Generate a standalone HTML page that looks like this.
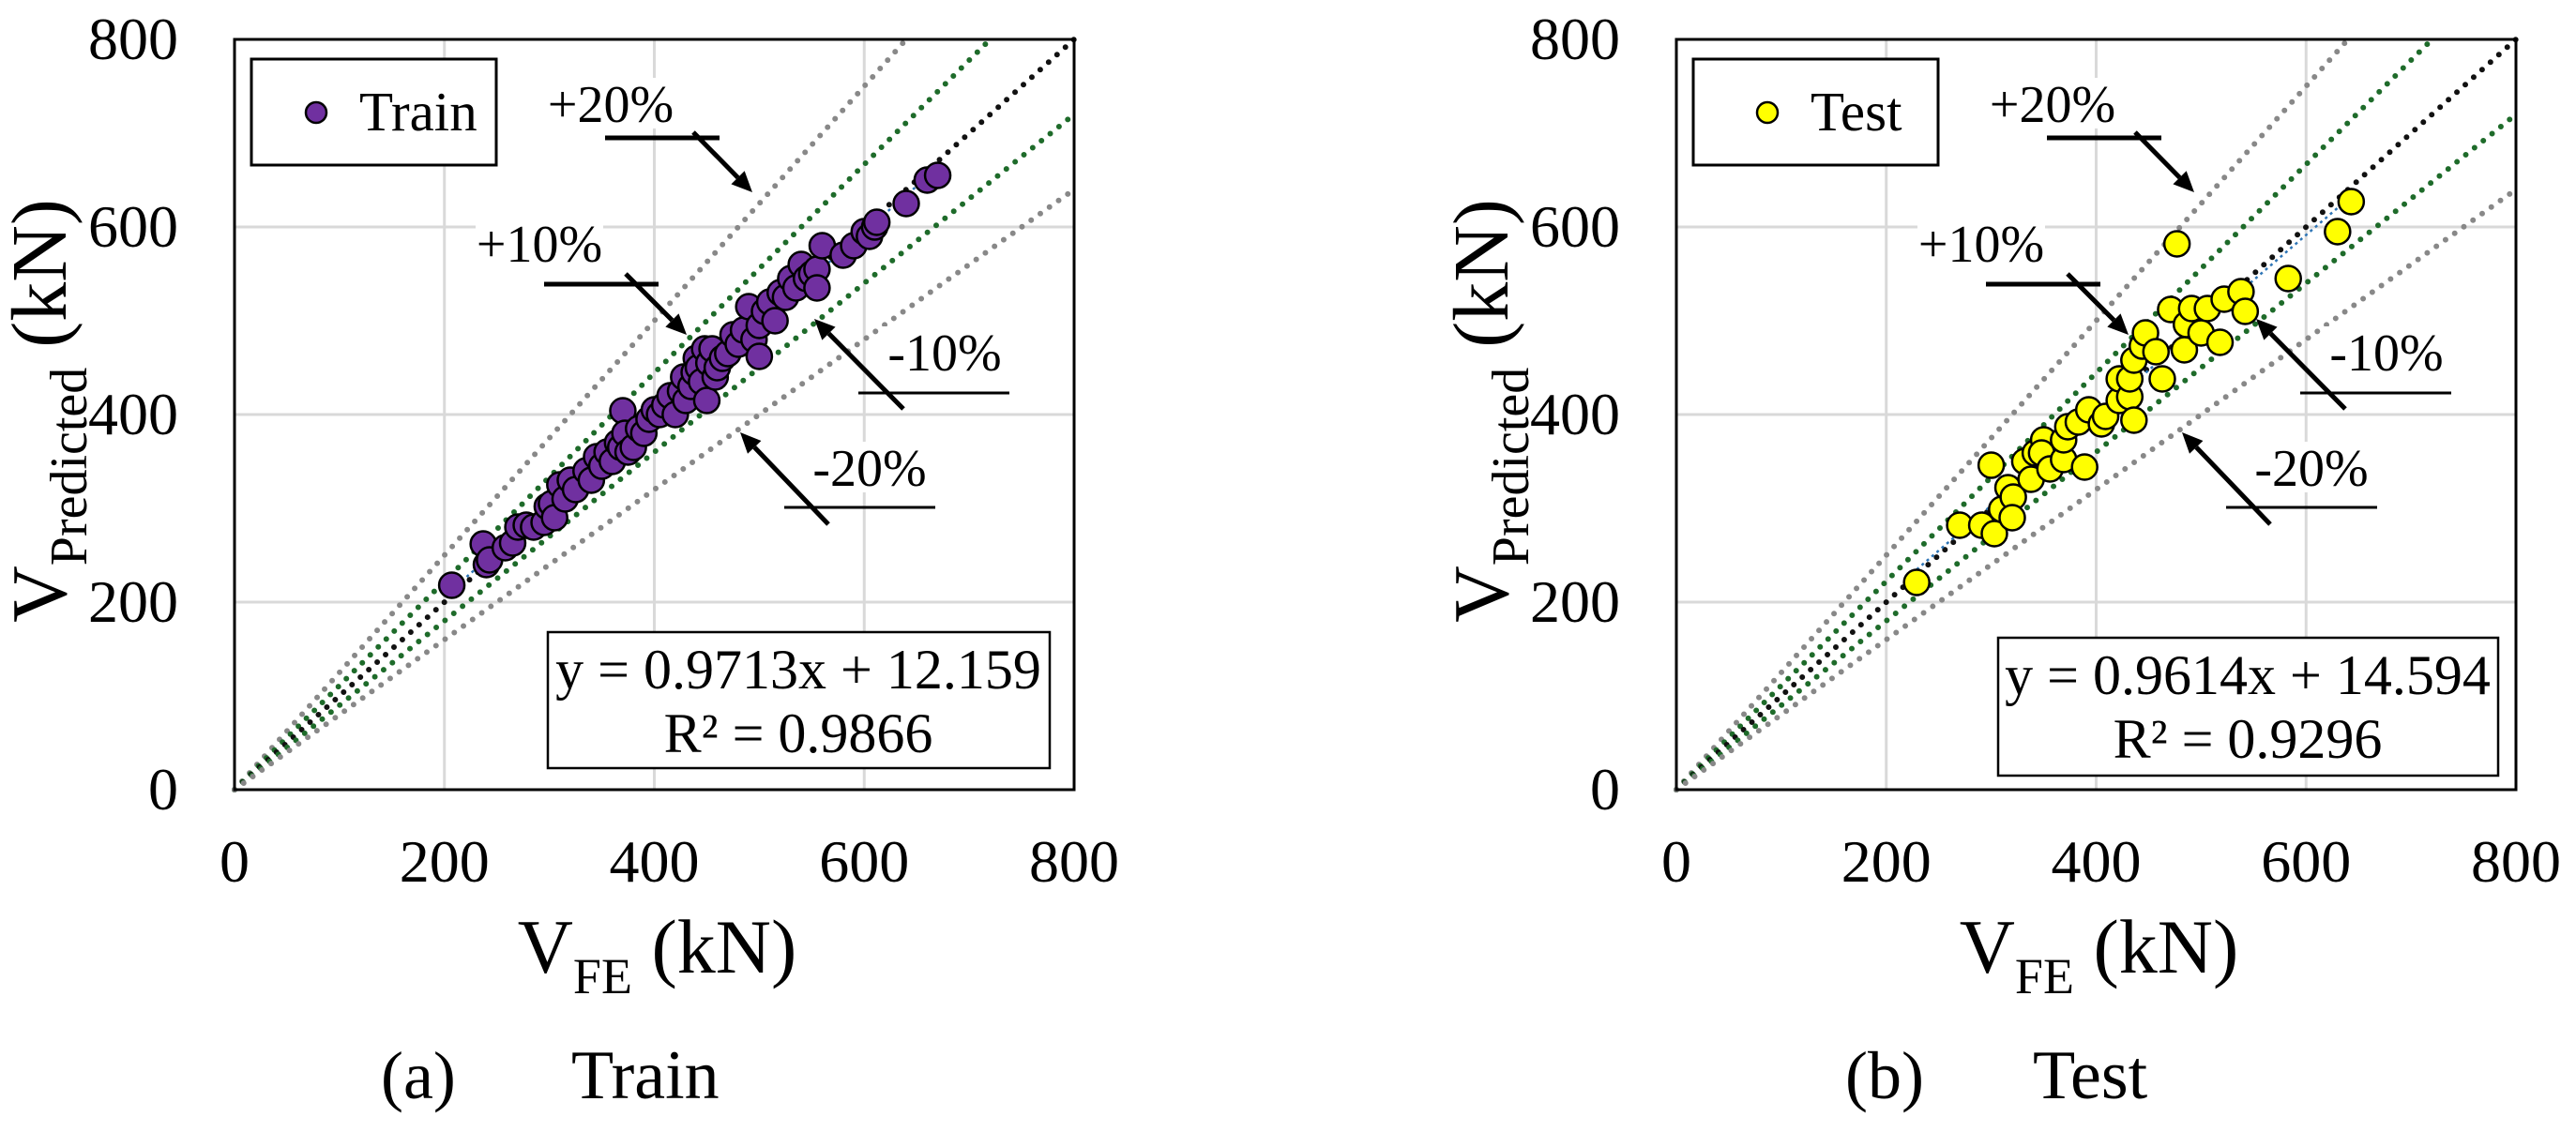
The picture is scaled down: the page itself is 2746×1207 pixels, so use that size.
<!DOCTYPE html>
<html><head><meta charset="utf-8"><style>
html,body{margin:0;padding:0;background:#fff;}
svg{display:block;font-family:"Liberation Serif",serif;}
</style></head><body>
<svg id="fig" width="2746" height="1207" viewBox="0 0 2746 1207" xmlns="http://www.w3.org/2000/svg"></svg>
<script>
const ticks=[0,200,400,600,800];
const tickLabels=["0","200","400","600","800"];
const refSlopes=[1.25,1/0.9,1,0.9,0.8];
const refColors=["#888888","#1e6b2a","#111111","#1e6b2a","#888888"];
const trainX=[207,237,240,243,258,265,270,278,285,295,298,302,305,310,315,320,325,335,340,345,350,355,360,365,368,370,372,375,380,385,390,395,400,405,410,415,420,425,428,430,435,438,440,442,445,448,450,452,455,458,460,465,470,475,480,485,490,495,500,505,500,510,515,520,525,530,535,540,545,550,555,560,555,580,590,600,605,610,612,640,660,670];
const trainY=[218,262,240,245,258,263,280,282,280,285,302,305,290,325,310,330,320,340,330,355,345,360,350,370,365,404,380,360,365,385,380,395,405,400,410,420,400,425,440,415,430,445,460,450,435,470,415,455,470,440,450,460,465,485,475,490,515,480,495,510,462,520,500,530,525,545,535,560,545,550,555,580,535,570,580,595,590,600,605,625,650,655];
const testX=[229,270,291,300,303,310,316,321,320,332,338,342,350,348,356,369,369,373,383,389,393,405,409,422,422,432,436,432,436,444,447,457,463,471,477,484,486,491,500,506,518,522,538,542,583,630,643];
const testY=[221,282,282,346,273,299,322,312,290,350,331,359,373,359,342,352,373,387,392,344,405,390,398,415,438,419,394,438,458,473,487,467,438,512,582,469,496,513,487,513,477,523,531,510,545,595,627];
const fitSlope=[0.9713,0.9614];
const fitIntercept=[12.159,14.594];
const fitText=[["y = 0.9713x + 12.159","R² = 0.9866"],["y = 0.9614x + 14.594","R² = 0.9296"]];

const NS="http://www.w3.org/2000/svg";
const svg=document.getElementById('fig');
function mk(tag,attrs,parent){const e=document.createElementNS(NS,tag);for(const k in attrs)e.setAttribute(k,attrs[k]);(parent||svg).appendChild(e);return e;}

const panels=[
 {x0:250,name:"train",xs:trainX,ys:trainY,fill:"#7030A0",label:"Train",cap:"(a)",legMx:337,legTx:383,eq:[584,674,535,145],eqCx:851,capX:[406,609]},
 {x0:1787,name:"test",xs:testX,ys:testY,fill:"#FFFF00",label:"Test",cap:"(b)",legMx:1884,legTx:1930,eq:[2130,680,533,147],eqCx:2396,capX:[1967,2167]}
];
const W=895,TOP=42,BOT=842;
panels.forEach((p,pi)=>{
  const sx=v=>p.x0+v/800*W, sy=v=>BOT-v/800*(BOT-TOP);
  const g=mk('g',{});
  
  
  ticks.forEach((t,i)=>{
    if(t>0&&t<800){
      const gx=mk('line',{x1:sx(t),x2:sx(t),y1:TOP,y2:BOT,stroke:"#d9d9d9","stroke-width":3},g);
      
      const gy=mk('line',{x1:p.x0,x2:p.x0+W,y1:sy(t),y2:sy(t),stroke:"#d9d9d9","stroke-width":3},g);
      
    }
    const xl=mk('text',{x:sx(t),y:940,"font-size":64,"text-anchor":"middle"},g);xl.textContent=tickLabels[i];
    
    const yl=mk('text',{x:p.x0-60,y:sy(t)+21,"font-size":64,"text-anchor":"end"},g);yl.textContent=tickLabels[i];
    
  });
  refSlopes.forEach((s,i)=>{
    const xe=Math.min(800,800/s), ye=xe*s;
    const l=mk('line',{x1:sx(0),y1:sy(0),x2:sx(xe),y2:sy(ye),stroke:refColors[i],"stroke-width":6,"stroke-linecap":"round","stroke-dasharray":"0 12"},g);
    
  });
  const ann=[["+20%",401,111,395,517,147,5,489,141,552,205],["+10%",325,260,330,452,303,5,417,292,482,357],["-10%",757,376,665,826,419,3,713,436,618,340],["-20%",677,499,586,747,541,3,633,559,539,461]];
  ann.forEach(a=>{
    const ox=p.x0;
    const bg=mk('rect',{x:ox+a[1]-68,y:a[2]-28,width:136,height:54,fill:"#fff"},g);
    
    const t=mk('text',{x:ox+a[1],y:a[2]+19,"font-size":56,"text-anchor":"middle"},g);t.textContent=a[0];
    
    const hl=mk('line',{x1:ox+a[3],x2:ox+a[4],y1:a[5],y2:a[5],stroke:"#000","stroke-width":a[6]},g);
    
    const x1=ox+a[7],y1=a[8],x2=ox+a[9],y2=a[10];
    const ang=Math.atan2(y2-y1,x2-x1),L=22,Wd=10;
    const bx=x2-L*Math.cos(ang),by=y2-L*Math.sin(ang);
    const ar=mk('line',{x1:x1,y1:y1,x2:bx,y2:by,stroke:"#000","stroke-width":5},g);
    
    const hd=mk('polygon',{points:`${x2},${y2} ${bx+Wd*Math.sin(ang)},${by-Wd*Math.cos(ang)} ${bx-Wd*Math.sin(ang)},${by+Wd*Math.cos(ang)}`,fill:"#000"},g);
    
  });
  const xmin=Math.min(...p.xs),xmax=Math.max(...p.xs);
  const tl=mk('line',{x1:sx(xmin),y1:sy(fitSlope[pi]*xmin+fitIntercept[pi]),x2:sx(xmax),y2:sy(fitSlope[pi]*xmax+fitIntercept[pi]),stroke:"#2e75b6","stroke-width":2.5,"stroke-dasharray":"3 4"},g);
  
  p.xs.forEach((v,i)=>{
    const c=mk('circle',{cx:sx(v),cy:sy(p.ys[i]),r:13.5,fill:p.fill,stroke:"#000","stroke-width":2.5},g);
    
    
  });
  const bd=mk('rect',{x:p.x0,y:TOP,width:W,height:BOT-TOP,fill:"none",stroke:"#000","stroke-width":3},g);
  
  const lg=mk('rect',{x:p.x0+18,y:63,width:261,height:113,fill:"#fff",stroke:"#000","stroke-width":3},g);
  
  const lm=mk('circle',{cx:p.legMx,cy:120,r:11,fill:p.fill,stroke:"#000","stroke-width":2.5},g);
  
  const lt=mk('text',{x:p.legTx,y:139,"font-size":59},g);lt.textContent=p.label;
  
  const eb=mk('rect',{x:p.eq[0],y:p.eq[1],width:p.eq[2],height:p.eq[3],fill:"#fff",stroke:"#000","stroke-width":2.5},g);
  
  fitText[pi].forEach((s,j)=>{
    const et=mk('text',{x:p.eqCx,y:p.eq[1]+(j===0?60:128),"font-size":60,"text-anchor":"middle"},g);et.textContent=s;
    
  });
  const xt=mk('text',{x:sx(400)+3,y:1037,"font-size":82,"text-anchor":"middle"},g);
  
  xt.innerHTML='V<tspan font-size="54" dy="22">FE</tspan><tspan dy="-22"> (kN)</tspan>';
  const yt=mk('text',{x:0,y:0,"font-size":84,"text-anchor":"middle",transform:`translate(${p.x0-180},438) rotate(-90)`},g);
  
  yt.innerHTML='V<tspan font-size="56" dy="22">Predicted</tspan><tspan dy="-22"> (kN)</tspan>';
  const c1=mk('text',{x:p.capX[0],y:1171,"font-size":72},g);c1.textContent=p.cap;
  
  const c2=mk('text',{x:p.capX[1],y:1171,"font-size":74},g);c2.textContent=p.label;
  
});
</script>
</body></html>
